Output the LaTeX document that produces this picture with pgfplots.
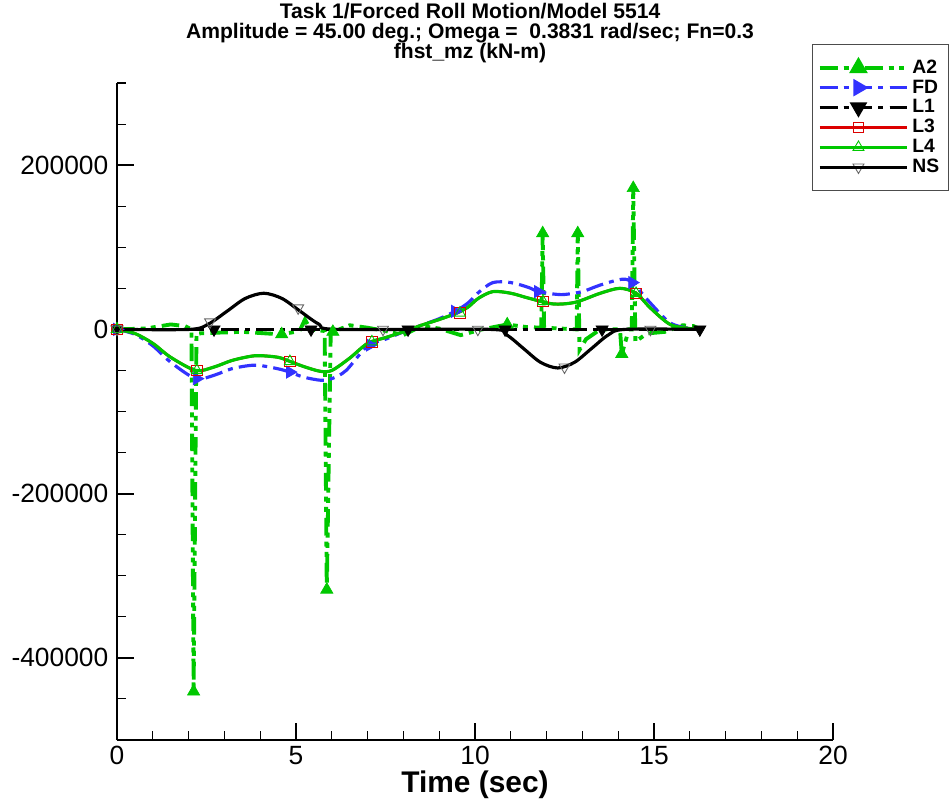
\documentclass[border=0pt]{standalone}
\usepackage{pgfplots}
\pgfplotsset{compat=1.18}
\usepackage{fontspec}
\setmainfont{Liberation Sans}
\definecolor{agreen}{RGB}{0,200,0}
\definecolor{fdblue}{RGB}{50,50,255}
\definecolor{lred}{RGB}{220,0,0}

\pgfplotstableread{
t v
0 0
0.8 1000
1.5 6000
1.9 4000
2.08 0
2.14 -441000
2.22 -5000
2.8 -4000
3.5 -3000
4.2 -5000
4.6 -6000
5.1 -2000
5.25 12000
5.4 0
5.8 -2000
5.86 -317000
5.97 -3000
6.03 -3000
6.5 5000
7.0 2000
7.5 -2000
8.0 -7000
8.5 4000
9.0 1000
9.6 -7000
10.2 0
10.9 6000
11.4 3000
11.85 2000
11.89 117000
11.93 2000
12.4 1000
12.84 0
12.87 117000
12.92 -25000
13.1 -12000
13.5 0
14.05 0
14.1 -30000
14.3 0
14.38 0
14.42 172000
14.48 -15000
14.8 -5000
15.3 -3000
15.8 5000
16.1 4000
16.3 0
}\tA

\pgfplotstableread{
t v
0 0
2.14 -441000
4.6 -6000
5.86 -317000
6.03 -3000
10.9 6000
11.89 117000
12.87 117000
14.1 -30000
14.42 172000
}\tAm

\pgfplotstableread{
t v
0 0
0.5 -6000
1.0 -20000
1.5 -40000
2.2 -60000
2.7 -56000
3.2 -48000
3.7 -44000
4.0 -44000
4.5 -48000
4.83 -52000
5.2 -58000
5.7 -62000
6.0 -60000
6.4 -50000
7.0 -20000
7.5 -12000
8.0 -3000
8.5 5000
9.0 13000
9.44 22000
9.8 32000
10.1 45000
10.5 57000
11.0 57000
11.5 51000
11.76 46000
12.2 43000
12.5 42500
13.0 46000
13.5 54000
14.1 61000
14.39 57000
14.9 32000
15.45 8000
16.0 1000
16.3 0
}\tFD

\pgfplotstableread{
t v
0 0
2.23 -60000
4.83 -52000
7.07 -19000
9.44 22000
11.76 46000
14.39 57000
}\tFDm

\pgfplotstableread{
t v
0 0
2.71 0
5.42 0
8.13 0
10.84 0
13.55 0
16.28 0
}\tL

\pgfplotstableread{
t v
0 0
0.5 -5000
1.0 -17000
1.5 -34000
2.2 -50000
2.7 -46000
3.2 -38000
3.7 -33000
4.0 -32000
4.5 -34000
4.83 -39000
5.2 -45000
5.67 -51000
6.0 -50000
6.5 -35000
7.0 -17000
7.5 -10000
8.0 -3000
8.5 5000
9.0 12000
9.5 20000
9.8 27000
10.1 38000
10.5 46000
11.0 44000
11.5 38000
12.18 31000
12.8 33000
13.5 44000
14.05 50000
14.5 44000
14.9 26000
15.45 6000
16.0 1000
16.3 0
}\tLfour

\pgfplotstableread{
t v
0 0
2.23 -50000
4.83 -39000
7.12 -15000
9.58 20000
11.9 34000
14.5 44000
}\tLm

\pgfplotstableread{
t v
0 0
2.04 0
2.55 6400
3.07 22000
3.58 37600
4.10 44000
4.61 37600
5.12 22000
5.64 6400
6.15 0
10.42 0
10.89 -6900
11.36 -23500
11.83 -40100
12.31 -47000
12.78 -40100
13.25 -23500
13.72 -6900
14.19 0
16.3 0
}\tNS

\pgfplotstableread{
t v
0 0
2.6 9000
5.06 26000
7.43 0
10.08 0
12.5 -46000
14.9 0
}\tNSm

\begin{document}
\begin{tikzpicture}
\begin{axis}[
 scale only axis, width=14.32cm, height=13.14cm,
 at={(2.34cm,1.3cm)}, anchor=south west,
 xmin=0, xmax=20, ymin=-500000, ymax=300000,
 axis x line=bottom, axis y line=left,
 axis line style={-, line width=1.6pt},
 scaled y ticks=false, scaled x ticks=false,
 xtick={0,5,10,15,20}, xticklabels={0,5,10,15,20},
 minor xtick={1,2,3,4,6,7,8,9,11,12,13,14,16,17,18,19},
 ytick={-400000,-200000,0,200000}, yticklabels={-400000,-200000,0,200000},
 minor ytick={-450000,-350000,-300000,-250000,-150000,-100000,-50000,50000,100000,150000,250000,300000},
 tick align=inside,
 major tick length=0.34cm, minor tick length=0.18cm,
 major tick style={line width=1.2pt, black},
 minor tick style={line width=0.6pt, black},
 tick label style={font=\fontsize{15}{15}\selectfont},
 yticklabel style={xshift=-0.05cm},
 xlabel={Time (sec)},
 xlabel style={font=\bfseries\fontsize{17}{17}\selectfont, at={(axis description cs:0.5,-0.0685)}, anchor=center},
 clip=false,
 legend style={at={(0.971,1.059)}, anchor=north west, draw=black!70, line width=0.6pt, fill=white,
   font=\bfseries\fontsize{11}{11}\selectfont, inner xsep=3pt, inner ysep=6.5pt, row sep=-1.8pt,
   cells={anchor=west}},
 legend cell align=left,
 legend image code/.code={\draw[mark repeat=2,mark phase=2,#1] plot coordinates {(0cm,0cm) (0.77cm,0cm) (1.54cm,0cm)}; \path (0cm,0cm) -- (1.74cm,0cm);},
]
% A2
\addplot[agreen, line width=2.2pt, dash pattern=on 10pt off 3.5pt on 2.8pt off 3pt on 2.8pt off 3.5pt, forget plot] table {\tA};
\addplot[only marks, mark=triangle*, mark size=4pt, mark options={solid, fill=agreen, draw=agreen}, forget plot] table {\tAm};
% FD
\addplot[fdblue, line width=1.8pt, dash pattern=on 10pt off 3.5pt on 2.8pt off 3.5pt, smooth, forget plot] table {\tFD};
\addplot[only marks, mark=triangle*, mark size=4pt, mark options={solid, fill=fdblue, draw=fdblue, rotate=-90}, forget plot] table {\tFDm};
% L1
\addplot[black, line width=1.8pt, dash pattern=on 10pt off 3.5pt on 2.8pt off 3.5pt, forget plot] table {\tL};
\addplot[only marks, mark=triangle*, mark size=4pt, mark options={solid, fill=black, draw=black, rotate=180}, forget plot] table {\tL};
% L3
\addplot[lred, line width=1.6pt, smooth, forget plot] table {\tLfour};
\addplot[only marks, mark=square, mark size=3pt, mark options={solid, draw=lred, line width=0.5pt}, forget plot] table {\tLm};
% L4
\addplot[agreen, line width=1.8pt, smooth, forget plot] table {\tLfour};
\addplot[only marks, mark=triangle, mark size=3.6pt, mark options={solid, draw=agreen, line width=0.5pt}, forget plot] table {\tLm};
% NS
\addplot[black, line width=1.8pt, smooth, forget plot] table {\tNS};
\addplot[only marks, mark=triangle, mark size=3.6pt, mark options={solid, draw=black!60, fill=white, line width=0.5pt, rotate=180}, forget plot] table {\tNSm};

\addlegendimage{agreen, line width=2.2pt, dash pattern=on 10pt off 3.5pt on 2.8pt off 3pt on 2.8pt off 3.5pt, mark=triangle*, mark size=4pt, mark options={solid, fill=agreen}}
\addlegendentry{A2}
\addlegendimage{fdblue, line width=1.8pt, dash pattern=on 10pt off 3.5pt on 2.8pt off 3.5pt, mark=triangle*, mark size=4pt, mark options={solid, fill=fdblue, rotate=-90}}
\addlegendentry{FD}
\addlegendimage{black, line width=1.8pt, dash pattern=on 10pt off 3.5pt on 2.8pt off 3.5pt, mark=triangle*, mark size=4pt, mark options={solid, fill=black, rotate=180}}
\addlegendentry{L1}
\addlegendimage{lred, line width=1.6pt, mark=square, mark size=3pt, mark options={solid, draw=lred, fill=white, line width=0.5pt}}
\addlegendentry{L3}
\addlegendimage{agreen, line width=1.8pt, mark=triangle, mark size=3.6pt, mark options={solid, draw=agreen, fill=white, line width=0.5pt}}
\addlegendentry{L4}
\addlegendimage{black, line width=1.8pt, mark=triangle, mark size=3.6pt, mark options={solid, draw=black!60, fill=white, line width=0.5pt, rotate=180}}
\addlegendentry{NS}
\end{axis}
\node[align=center, font=\bfseries\fontsize{12}{11.4}\selectfont, anchor=center] at (9.4cm,15.44cm)
 {Task 1/Forced Roll Motion/Model 5514\\Amplitude = 45.00 deg.; Omega =\ \ 0.3831 rad/sec; Fn=0.3\\fhst\_mz (kN-m)};
\pgfresetboundingbox
\path[use as bounding box] (0,0) rectangle (19cm,16.1cm);
\end{tikzpicture}
\end{document}
